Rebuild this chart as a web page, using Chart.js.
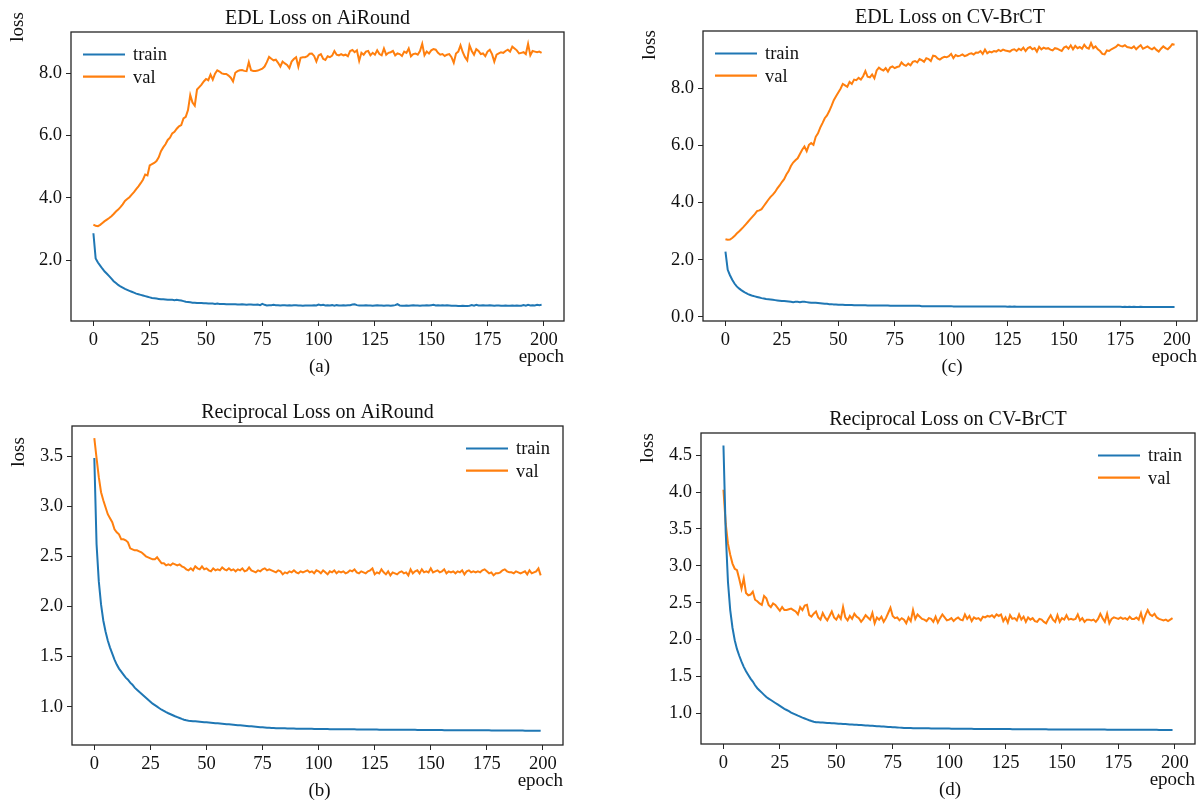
<!DOCTYPE html>
<html>
<head>
<meta charset="utf-8">
<title>Training curves</title>
<script src="https://cdn.jsdelivr.net/npm/chart.js@4.4.1/dist/chart.umd.min.js"></script>
<style>
  html, body { margin: 0; padding: 0; background: #fff; width: 1200px; height: 802px; overflow: hidden; }
  canvas { position: absolute; }
</style>
</head>
<body>
<script>
// ---- data ----------------------------------------------------------------
const epochs = Array.from({ length: 200 }, (_, i) => i);
const xTicks = [0, 25, 50, 75, 100, 125, 150, 175, 200];
const yTicksA = [2, 4, 6, 8];
const yTicksB = [1.0, 1.5, 2.0, 2.5, 3.0, 3.5];
const yTicksC = [0, 2, 4, 6, 8];
const yTicksD = [1.0, 1.5, 2.0, 2.5, 3.0, 3.5, 4.0, 4.5];
const seriesNames = ['train', 'val'];

// EDL loss, AiRound
const edlAiRoundTrain = [
  2.86,2.05,1.92,1.82,1.72,1.63,1.56,1.48,1.40,1.32,
  1.26,1.20,1.15,1.11,1.07,1.04,1.01,0.98,0.95,0.92,
  0.90,0.88,0.86,0.84,0.82,0.80,0.78,0.77,0.76,0.75,
  0.74,0.74,0.73,0.72,0.72,0.72,0.71,0.72,0.71,0.70,
  0.68,0.66,0.65,0.64,0.63,0.63,0.62,0.62,0.62,0.61,
  0.61,0.60,0.60,0.60,0.59,0.60,0.59,0.59,0.59,0.58,
  0.58,0.58,0.58,0.58,0.57,0.57,0.58,0.57,0.56,0.57,
  0.57,0.56,0.56,0.57,0.55,0.59,0.56,0.54,0.55,0.55,
  0.56,0.55,0.55,0.54,0.55,0.55,0.54,0.55,0.54,0.55,
  0.55,0.54,0.54,0.53,0.54,0.54,0.54,0.54,0.55,0.54,
  0.57,0.55,0.56,0.54,0.55,0.54,0.55,0.53,0.55,0.54,
  0.54,0.55,0.54,0.55,0.55,0.57,0.58,0.55,0.54,0.54,
  0.54,0.55,0.54,0.54,0.53,0.54,0.55,0.54,0.54,0.53,
  0.54,0.54,0.53,0.54,0.55,0.58,0.54,0.53,0.53,0.54,
  0.53,0.54,0.55,0.54,0.54,0.53,0.54,0.54,0.55,0.54,
  0.55,0.56,0.54,0.55,0.54,0.55,0.54,0.55,0.54,0.53,
  0.53,0.53,0.52,0.52,0.53,0.52,0.52,0.53,0.55,0.53,
  0.56,0.54,0.54,0.55,0.54,0.54,0.55,0.54,0.53,0.54,
  0.54,0.53,0.53,0.54,0.53,0.53,0.54,0.53,0.54,0.53,
  0.53,0.55,0.53,0.56,0.54,0.55,0.54,0.56,0.55,0.56
];
const edlAiRoundVal = [
  3.14,3.10,3.09,3.13,3.19,3.25,3.30,3.35,3.41,3.48,
  3.56,3.62,3.70,3.79,3.90,3.96,4.02,4.10,4.18,4.28,
  4.37,4.47,4.58,4.75,4.72,5.04,5.08,5.12,5.18,5.30,
  5.50,5.62,5.72,5.86,5.93,6.07,6.12,6.22,6.30,6.34,
  6.55,6.60,6.82,7.30,7.06,6.96,7.48,7.56,7.64,7.74,
  7.82,7.78,7.96,7.80,7.99,8.10,8.06,8.00,7.98,7.98,
  7.93,7.86,7.74,8.02,8.07,8.10,8.11,8.08,8.07,8.36,
  8.10,8.08,8.08,8.09,8.12,8.15,8.22,8.36,8.53,8.47,
  8.42,8.44,8.34,8.22,8.38,8.32,8.27,8.17,8.38,8.46,
  8.52,8.21,8.50,8.52,8.52,8.55,8.63,8.64,8.56,8.38,
  8.58,8.62,8.47,8.43,8.55,8.52,8.57,8.72,8.60,8.58,
  8.62,8.58,8.60,8.55,8.72,8.75,8.68,8.74,8.40,8.66,
  8.60,8.70,8.72,8.58,8.66,8.60,8.74,8.62,8.58,8.80,
  8.60,8.66,8.68,8.72,8.58,8.64,8.62,8.56,8.70,8.66,
  8.80,8.55,8.62,8.64,8.60,8.72,8.95,8.58,8.70,8.64,
  8.74,8.78,8.76,8.66,8.60,8.62,8.56,8.60,8.62,8.52,
  8.34,8.64,8.70,8.90,8.68,8.52,8.42,8.90,8.72,8.60,
  8.78,8.72,8.62,8.64,8.55,8.70,8.76,8.62,8.38,8.60,
  8.64,8.68,8.66,8.72,8.76,8.70,8.86,8.80,8.74,8.64,
  8.66,8.68,8.62,8.95,8.58,8.72,8.70,8.68,8.70,8.66
];

// Reciprocal loss, AiRound
const recAiRoundTrain = [
  3.48,2.62,2.25,2.02,1.86,1.75,1.66,1.59,1.53,1.47,
  1.42,1.38,1.35,1.32,1.29,1.27,1.24,1.22,1.19,1.17,
  1.15,1.13,1.11,1.09,1.07,1.05,1.03,1.015,1.0,0.985,
  0.97,0.958,0.946,0.935,0.925,0.915,0.905,0.896,0.887,0.878,
  0.870,0.864,0.860,0.858,0.856,0.854,0.852,0.850,0.848,0.846,
  0.844,0.842,0.840,0.838,0.836,0.834,0.832,0.830,0.828,0.826,
  0.824,0.822,0.820,0.818,0.816,0.814,0.812,0.810,0.808,0.806,
  0.804,0.802,0.800,0.798,0.796,0.794,0.792,0.790,0.789,0.788,
  0.787,0.786,0.785,0.785,0.784,0.784,0.783,0.783,0.782,0.782,
  0.781,0.781,0.780,0.780,0.780,0.779,0.779,0.779,0.778,0.778,
  0.778,0.777,0.777,0.777,0.777,0.776,0.776,0.776,0.776,0.775,
  0.775,0.775,0.775,0.774,0.774,0.774,0.774,0.773,0.773,0.773,
  0.773,0.773,0.772,0.772,0.772,0.772,0.772,0.771,0.771,0.771,
  0.771,0.771,0.770,0.770,0.770,0.770,0.770,0.770,0.769,0.769,
  0.769,0.769,0.769,0.769,0.768,0.768,0.768,0.768,0.768,0.768,
  0.767,0.767,0.767,0.767,0.767,0.767,0.766,0.766,0.766,0.766,
  0.766,0.766,0.766,0.765,0.765,0.765,0.765,0.765,0.765,0.765,
  0.764,0.764,0.764,0.764,0.764,0.764,0.764,0.763,0.763,0.763,
  0.763,0.763,0.763,0.763,0.762,0.762,0.762,0.762,0.762,0.762,
  0.762,0.762,0.761,0.761,0.761,0.761,0.761,0.761,0.761,0.760
];
const recAiRoundVal = [
  3.68,3.48,3.29,3.14,3.06,2.99,2.92,2.88,2.84,2.77,
  2.74,2.72,2.67,2.67,2.66,2.64,2.58,2.57,2.56,2.56,
  2.55,2.54,2.52,2.50,2.49,2.48,2.47,2.47,2.49,2.46,
  2.43,2.43,2.41,2.42,2.41,2.43,2.42,2.41,2.42,2.40,
  2.39,2.37,2.36,2.38,2.36,2.40,2.38,2.37,2.40,2.37,
  2.38,2.36,2.35,2.38,2.36,2.37,2.36,2.39,2.37,2.36,
  2.38,2.36,2.37,2.35,2.37,2.36,2.38,2.35,2.36,2.39,
  2.36,2.35,2.34,2.36,2.35,2.37,2.38,2.36,2.37,2.36,
  2.35,2.34,2.36,2.35,2.32,2.34,2.33,2.35,2.34,2.36,
  2.34,2.33,2.35,2.34,2.35,2.36,2.34,2.35,2.33,2.36,
  2.35,2.33,2.36,2.34,2.32,2.35,2.34,2.36,2.33,2.35,
  2.34,2.35,2.33,2.34,2.36,2.35,2.37,2.34,2.33,2.35,
  2.34,2.33,2.35,2.36,2.38,2.32,2.34,2.33,2.37,2.34,
  2.32,2.35,2.31,2.34,2.33,2.32,2.34,2.35,2.33,2.34,
  2.31,2.37,2.33,2.35,2.36,2.33,2.37,2.34,2.35,2.34,
  2.38,2.34,2.35,2.36,2.34,2.35,2.37,2.33,2.35,2.34,
  2.35,2.33,2.35,2.34,2.36,2.32,2.35,2.36,2.34,2.35,
  2.34,2.35,2.34,2.36,2.37,2.35,2.33,2.34,2.31,2.33,
  2.33,2.34,2.36,2.37,2.35,2.34,2.34,2.33,2.35,2.34,
  2.33,2.34,2.35,2.32,2.36,2.33,2.34,2.35,2.38,2.31
];

// EDL loss, CV-BrCT
const edlBrctTrain = [
  2.29,1.65,1.46,1.30,1.17,1.07,1.00,0.94,0.89,0.84,
  0.80,0.77,0.74,0.72,0.70,0.68,0.66,0.65,0.63,0.62,
  0.61,0.60,0.59,0.58,0.57,0.56,0.56,0.55,0.54,0.53,
  0.52,0.53,0.53,0.52,0.53,0.53,0.52,0.51,0.50,0.50,
  0.50,0.49,0.48,0.47,0.46,0.46,0.45,0.45,0.44,0.44,
  0.43,0.43,0.43,0.42,0.42,0.42,0.42,0.41,0.41,0.41,
  0.41,0.41,0.41,0.40,0.40,0.40,0.40,0.40,0.40,0.40,
  0.40,0.40,0.40,0.39,0.39,0.39,0.39,0.39,0.39,0.39,
  0.39,0.39,0.39,0.39,0.39,0.39,0.39,0.38,0.38,0.38,
  0.38,0.38,0.38,0.38,0.38,0.38,0.38,0.38,0.38,0.38,
  0.38,0.37,0.37,0.37,0.37,0.37,0.37,0.37,0.37,0.37,
  0.37,0.37,0.37,0.37,0.37,0.37,0.37,0.37,0.37,0.37,
  0.37,0.37,0.37,0.37,0.37,0.36,0.37,0.36,0.37,0.36,
  0.36,0.36,0.36,0.36,0.36,0.36,0.36,0.36,0.36,0.36,
  0.36,0.36,0.36,0.36,0.36,0.36,0.36,0.36,0.36,0.36,
  0.36,0.36,0.36,0.36,0.36,0.36,0.36,0.36,0.36,0.36,
  0.36,0.36,0.36,0.36,0.36,0.36,0.36,0.36,0.36,0.36,
  0.36,0.36,0.36,0.36,0.36,0.36,0.35,0.36,0.35,0.36,
  0.35,0.36,0.35,0.35,0.36,0.35,0.35,0.35,0.35,0.35,
  0.35,0.35,0.35,0.35,0.35,0.35,0.35,0.35,0.35,0.35
];
const edlBrctVal = [
  2.72,2.70,2.71,2.76,2.83,2.92,2.99,3.07,3.15,3.24,
  3.33,3.42,3.51,3.60,3.70,3.73,3.77,3.88,3.99,4.10,
  4.20,4.28,4.37,4.50,4.60,4.72,4.82,4.98,5.10,5.28,
  5.40,5.48,5.55,5.70,5.85,5.96,5.80,6.02,6.08,6.02,
  6.30,6.42,6.62,6.78,6.95,7.05,7.20,7.38,7.58,7.72,
  7.85,7.98,8.15,8.10,8.05,8.22,8.15,8.30,8.28,8.36,
  8.30,8.42,8.60,8.40,8.38,8.48,8.35,8.62,8.72,8.66,
  8.62,8.70,8.58,8.72,8.76,8.70,8.74,8.76,8.90,8.82,
  8.78,8.86,8.80,8.92,8.95,8.90,9.02,8.98,8.92,9.05,
  9.02,8.95,9.14,9.12,9.04,9.00,9.06,9.10,9.08,9.12,
  9.20,9.05,9.16,9.12,9.14,9.18,9.12,9.15,9.20,9.22,
  9.18,9.25,9.24,9.30,9.20,9.35,9.22,9.28,9.25,9.30,
  9.28,9.34,9.30,9.35,9.32,9.30,9.28,9.34,9.36,9.30,
  9.38,9.33,9.42,9.30,9.40,9.44,9.36,9.40,9.28,9.45,
  9.36,9.42,9.38,9.40,9.35,9.32,9.40,9.38,9.34,9.30,
  9.42,9.46,9.38,9.50,9.36,9.48,9.40,9.44,9.38,9.52,
  9.42,9.38,9.58,9.40,9.46,9.36,9.30,9.20,9.18,9.32,
  9.30,9.36,9.40,9.44,9.52,9.48,9.46,9.50,9.44,9.42,
  9.40,9.46,9.36,9.44,9.50,9.38,9.42,9.46,9.40,9.36,
  9.42,9.34,9.28,9.38,9.46,9.40,9.36,9.44,9.54,9.52
];

// Reciprocal loss, CV-BrCT
const recBrctTrain = [
  4.63,3.45,2.78,2.40,2.16,1.99,1.87,1.78,1.70,1.63,
  1.57,1.52,1.47,1.43,1.38,1.34,1.31,1.28,1.25,1.22,
  1.20,1.18,1.16,1.14,1.12,1.10,1.08,1.06,1.045,1.03,
  1.01,0.996,0.982,0.968,0.955,0.942,0.93,0.918,0.906,0.895,
  0.885,0.880,0.878,0.876,0.874,0.872,0.870,0.868,0.866,0.864,
  0.862,0.860,0.858,0.856,0.854,0.852,0.850,0.848,0.846,0.844,
  0.842,0.840,0.838,0.836,0.834,0.832,0.830,0.828,0.826,0.824,
  0.822,0.820,0.818,0.816,0.814,0.812,0.810,0.808,0.806,0.804,
  0.802,0.801,0.800,0.800,0.799,0.799,0.798,0.798,0.797,0.797,
  0.796,0.796,0.795,0.795,0.795,0.794,0.794,0.794,0.793,0.793,
  0.793,0.792,0.792,0.792,0.791,0.791,0.791,0.790,0.790,0.790,
  0.790,0.789,0.789,0.789,0.789,0.788,0.788,0.788,0.788,0.787,
  0.787,0.787,0.787,0.786,0.786,0.786,0.786,0.786,0.785,0.785,
  0.785,0.785,0.785,0.784,0.784,0.784,0.784,0.784,0.783,0.783,
  0.783,0.783,0.783,0.783,0.782,0.782,0.782,0.782,0.782,0.782,
  0.781,0.781,0.781,0.781,0.781,0.781,0.780,0.780,0.780,0.780,
  0.780,0.780,0.780,0.779,0.779,0.779,0.779,0.779,0.779,0.779,
  0.778,0.778,0.778,0.778,0.778,0.778,0.778,0.777,0.777,0.777,
  0.777,0.777,0.777,0.777,0.777,0.776,0.776,0.776,0.776,0.776,
  0.776,0.776,0.776,0.775,0.775,0.775,0.775,0.775,0.775,0.775
];
const recBrctVal = [
  4.03,3.57,3.30,3.15,3.03,2.96,2.94,2.82,2.69,2.83,
  2.63,2.60,2.61,2.65,2.54,2.52,2.49,2.47,2.59,2.56,
  2.47,2.44,2.49,2.47,2.43,2.39,2.44,2.40,2.40,2.41,
  2.42,2.40,2.38,2.34,2.44,2.40,2.46,2.47,2.33,2.31,
  2.35,2.38,2.30,2.27,2.36,2.30,2.26,2.32,2.38,2.30,
  2.27,2.33,2.28,2.44,2.30,2.26,2.32,2.28,2.35,2.31,
  2.29,2.24,2.28,2.33,2.30,2.27,2.36,2.22,2.30,2.27,
  2.31,2.24,2.29,2.36,2.43,2.32,2.29,2.30,2.26,2.29,
  2.27,2.22,2.30,2.25,2.40,2.28,2.34,2.31,2.28,2.27,
  2.25,2.29,2.28,2.24,2.31,2.23,2.29,2.34,2.30,2.26,
  2.27,2.29,2.25,2.28,2.30,2.27,2.26,2.34,2.28,2.32,
  2.25,2.30,2.28,2.29,2.26,2.31,2.30,2.32,2.31,2.33,
  2.30,2.34,2.32,2.34,2.25,2.30,2.23,2.33,2.28,2.29,
  2.26,2.34,2.27,2.31,2.24,2.30,2.27,2.29,2.25,2.24,
  2.28,2.27,2.24,2.22,2.28,2.33,2.27,2.24,2.33,2.24,
  2.29,2.27,2.33,2.27,2.28,2.27,2.28,2.34,2.26,2.29,
  2.24,2.27,2.27,2.26,2.27,2.24,2.28,2.35,2.29,2.24,
  2.35,2.22,2.28,2.30,2.29,2.28,2.30,2.28,2.29,2.27,
  2.31,2.28,2.28,2.30,2.27,2.36,2.24,2.33,2.40,2.34,
  2.32,2.35,2.30,2.28,2.27,2.26,2.27,2.25,2.27,2.29
];

// ---- layout & style --------------------------------------------------------
const COLORS = ['#1f77b4', '#ff7f0e'];
const FONT = '"Liberation Serif", "Times New Roman", serif';
const PAD = { left: 70, top: 32, right: 3, bottom: 62 };

const panels = [
  { title: 'EDL Loss on AiRound', caption: '(a)', box: { L: 71, T: 32, R: 564, B: 321 },
    yMin: 0.04, yMax: 9.33, yTicks: yTicksA, train: edlAiRoundTrain, val: edlAiRoundVal,
    legendSide: 'left', lossY: -5 },
  { title: 'Reciprocal Loss on AiRound', caption: '(b)', box: { L: 72, T: 426, R: 563, B: 745 },
    yMin: 0.618, yMax: 3.80, yTicks: yTicksB, train: recAiRoundTrain, val: recAiRoundVal,
    legendSide: 'right', lossY: 26 },
  { title: 'EDL Loss on CV-BrCT', caption: '(c)', box: { L: 703, T: 31, R: 1197, B: 321 },
    yMin: -0.14, yMax: 10.0, yTicks: yTicksC, train: edlBrctTrain, val: edlBrctVal,
    legendSide: 'left', lossY: 14 },
  { title: 'Reciprocal Loss on CV-BrCT', caption: '(d)', box: { L: 701, T: 433, R: 1195, B: 744 },
    yMin: 0.584, yMax: 4.80, yTicks: yTicksD, train: recBrctTrain, val: recBrctVal,
    legendSide: 'right', lossY: 15 }
];

// frame, titles, axis names, caption and legend drawn around the plot area
const decorations = {
  id: 'decorations',
  afterDraw(chart, args, opts) {
    const p = opts.panel;
    const ctx = chart.ctx;
    const a = chart.chartArea;
    ctx.save();
    ctx.strokeStyle = '#262626';
    ctx.lineWidth = 1.3;
    ctx.strokeRect(a.left, a.top, a.right - a.left, a.bottom - a.top);

    ctx.fillStyle = '#111';
    ctx.textBaseline = 'alphabetic';
    ctx.font = '20px ' + FONT;
    ctx.textAlign = 'center';
    ctx.fillText(p.title, (a.left + a.right) / 2, a.top - 8.5);

    ctx.font = '19px ' + FONT;
    ctx.fillText(p.caption, (a.left + a.right) / 2 + 2, a.bottom + 51);
    ctx.textAlign = 'right';
    ctx.fillText('epoch', a.right, a.bottom + 41);

    ctx.save();
    ctx.translate(a.left - 48, a.top + p.lossY);
    ctx.rotate(-Math.PI / 2);
    ctx.textAlign = 'center';
    ctx.fillText('loss', 0, 0);
    ctx.restore();

    // legend
    ctx.font = '18.5px ' + FONT;
    ctx.textAlign = 'left';
    ctx.textBaseline = 'middle';
    const x0 = p.legendSide === 'left' ? a.left + 12 : a.right - 97;
    seriesNames.forEach((name, i) => {
      const y = a.top + 22.5 + i * 22.2;
      ctx.strokeStyle = COLORS[i];
      ctx.lineWidth = 2.2;
      ctx.beginPath();
      ctx.moveTo(x0, y);
      ctx.lineTo(x0 + 42, y);
      ctx.stroke();
      ctx.fillStyle = '#111';
      ctx.fillText(name, x0 + 50, y + 1);
    });
    ctx.restore();
  }
};

panels.forEach((p) => {
  const w = p.box.R - p.box.L + PAD.left + PAD.right;
  const h = p.box.B - p.box.T + PAD.top + PAD.bottom;
  const canvas = document.createElement('canvas');
  canvas.width = w;
  canvas.height = h;
  canvas.style.left = (p.box.L - PAD.left) + 'px';
  canvas.style.top = (p.box.T - PAD.top) + 'px';
  canvas.style.width = w + 'px';
  canvas.style.height = h + 'px';
  document.body.appendChild(canvas);

  const tickFont = { family: FONT, size: 18.5 };
  const makeSet = (label, values, color) => ({
    label,
    data: epochs.map((e, i) => ({ x: e, y: values[i] })),
    borderColor: color,
    backgroundColor: color,
    borderWidth: 2,
    pointRadius: 0,
    tension: 0,
    fill: false
  });

  new Chart(canvas, {
    type: 'line',
    data: {
      datasets: [
        makeSet(seriesNames[0], p.train, COLORS[0]),
        makeSet(seriesNames[1], p.val, COLORS[1])
      ]
    },
    options: {
      responsive: false,
      animation: false,
      devicePixelRatio: 1,
      layout: { padding: { left: 0, top: PAD.top, right: PAD.right, bottom: 0 } },
      plugins: {
        legend: { display: false },
        title: { display: false },
        tooltip: { enabled: false },
        decorations: { panel: p }
      },
      scales: {
        x: {
          type: 'linear',
          min: -9.95,
          max: 208.95,
          afterBuildTicks: (s) => { s.ticks = xTicks.map((v) => ({ value: v })); },
          afterFit: (s) => { s.height = PAD.bottom; },
          border: { display: false },
          grid: { drawOnChartArea: false, drawTicks: true, tickLength: 5, color: '#262626', lineWidth: 1 },
          ticks: { font: tickFont, color: '#111', padding: 3, maxRotation: 0, autoSkip: false,
                   callback: (v) => String(v) }
        },
        y: {
          type: 'linear',
          min: p.yMin,
          max: p.yMax,
          afterBuildTicks: (s) => { s.ticks = p.yTicks.map((v) => ({ value: v })); },
          afterFit: (s) => { s.width = PAD.left; },
          border: { display: false },
          grid: { drawOnChartArea: false, drawTicks: true, tickLength: 5, color: '#262626', lineWidth: 1 },
          ticks: { font: tickFont, color: '#111', padding: 4, callback: (v) => Number(v).toFixed(1) }
        }
      }
    },
    plugins: [decorations]
  });
});
</script>
</body>
</html>
